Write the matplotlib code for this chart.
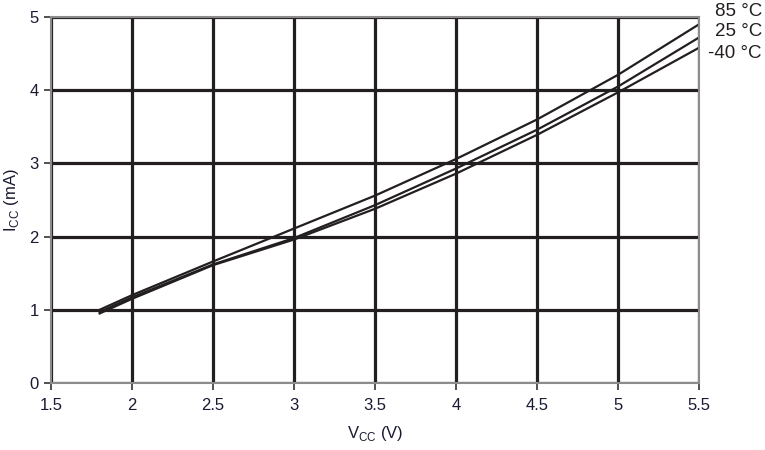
import matplotlib
matplotlib.use("Agg")
import matplotlib.pyplot as plt

plt.rcParams['font.family'] = ['Liberation Sans', 'DejaVu Sans']

vcc = [1.8, 2.0, 2.5, 3.0, 3.5, 4.0, 4.5, 5.0, 5.5]
icc_85 = [1.00, 1.20, 1.66, 2.11, 2.56, 3.06, 3.60, 4.21, 4.90]
icc_25 = [0.97, 1.17, 1.62, 1.98, 2.43, 2.93, 3.46, 4.05, 4.72]
icc_m40 = [0.95, 1.15, 1.61, 1.96, 2.38, 2.86, 3.39, 3.97, 4.58]
series_labels = ['85 °C', '25 °C', '-40 °C']

xticks = [1.5, 2, 2.5, 3, 3.5, 4, 4.5, 5, 5.5]
xticklabels = ['1.5', '2', '2.5', '3', '3.5', '4', '4.5', '5', '5.5']
yticks = [0, 1, 2, 3, 4, 5]

fig = plt.figure(figsize=(7.65, 4.5), dpi=100)
ax = fig.add_axes([0.0667, 0.1489, 0.847, 0.8133])

ax.set_xlim(1.5, 5.5)
ax.set_ylim(0, 5)
ax.set_xticks(xticks)
ax.set_xticklabels(xticklabels)
ax.set_yticks(yticks)

ax.grid(True, color='#231f20', linewidth=2.3)
ax.set_axisbelow(True)

for ys in (icc_85, icc_25, icc_m40):
    ax.plot(vcc, ys, color='#231f20', linewidth=1.6, zorder=3)

for sp in ax.spines.values():
    sp.set_color('#8c8c8c')
    sp.set_linewidth(1.5)
    sp.set_zorder(4)

ax.tick_params(axis='both', direction='out', length=5, width=1.2, color='#333333',
               labelsize=12, labelcolor='#1a1a33', pad=6)
ax.tick_params(axis='y', pad=4)

ax.set_xlabel('V$_{\\mathregular{CC}}$ (V)', fontsize=12, color='#1a1a33', labelpad=8)
ax.set_ylabel('I$_{\\mathregular{CC}}$ (mA)', fontsize=12, color='#1a1a33', labelpad=6)

label_y = [12, 32, 53]
for lab, py in zip(series_labels, label_y):
    fig.text(762 / 765, 1 - py / 450, lab, ha='right', va='center', fontsize=13.5, color='#231f20')

fig.savefig('out.png', dpi=100)
